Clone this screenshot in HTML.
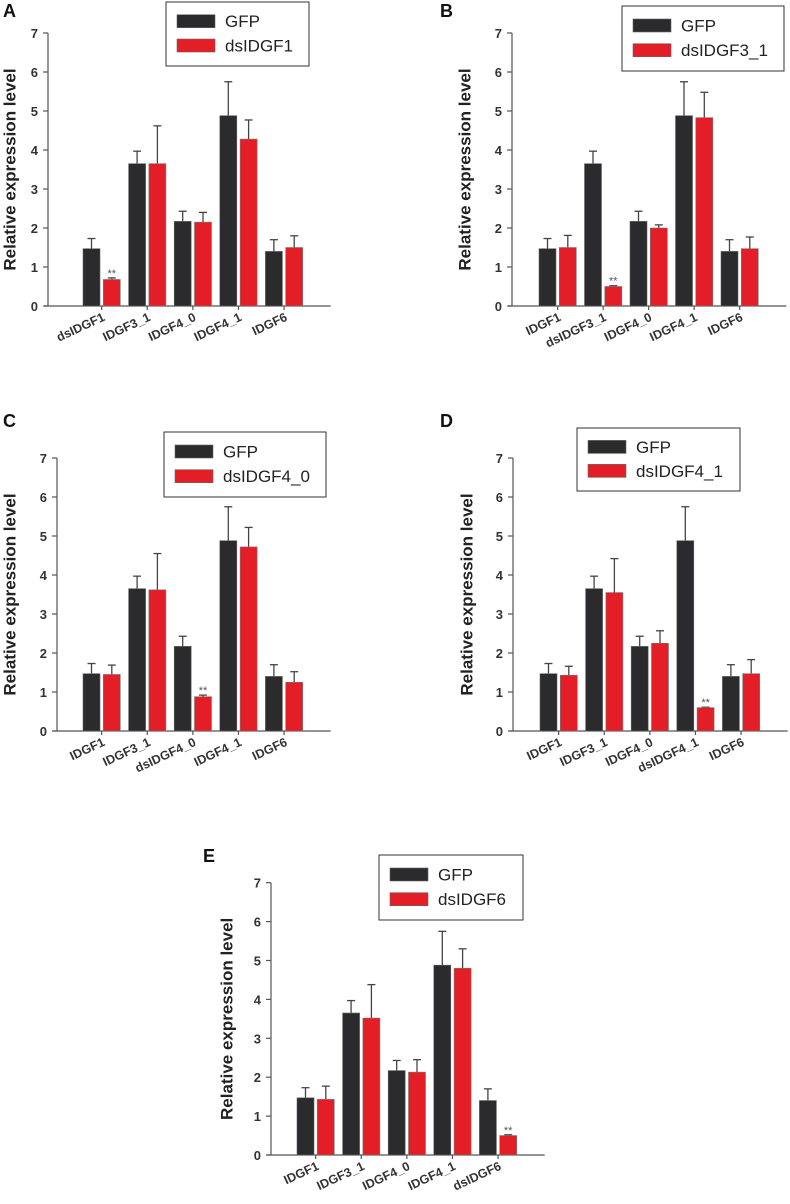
<!DOCTYPE html>
<html><head><meta charset="utf-8"><style>
html,body{margin:0;padding:0;background:#fff;}
svg{display:block;font-family:"Liberation Sans",Arial,sans-serif;}
</style></head>
<body>
<svg id="fig" width="790" height="1204" viewBox="0 0 790 1204" xmlns="http://www.w3.org/2000/svg"></svg>
<script>
const gfpValues = [1.47, 3.65, 2.17, 4.88, 1.40];
const gfpErrTop = [1.73, 3.97, 2.43, 5.75, 1.70];
const redA = [0.68, 3.65, 2.15, 4.28, 1.50];
const redAErr = [0.72, 4.62, 2.40, 4.77, 1.80];
const redB = [1.50, 0.50, 2.00, 4.83, 1.47];
const redBErr = [1.81, 0.52, 2.08, 5.48, 1.77];
const redC = [1.45, 3.62, 0.88, 4.72, 1.25];
const redCErr = [1.69, 4.55, 0.92, 5.22, 1.52];
const redD = [1.43, 3.55, 2.25, 0.60, 1.47];
const redDErr = [1.66, 4.42, 2.57, 0.61, 1.83];
const redE = [1.43, 3.52, 2.13, 4.80, 0.50];
const redEErr = [1.77, 4.38, 2.45, 5.30, 0.52];
const yTicks = [0, 1, 2, 3, 4, 5, 6, 7];
const catsA = ["dsIDGF1", "IDGF3_1", "IDGF4_0", "IDGF4_1", "IDGF6"];
const catsB = ["IDGF1", "dsIDGF3_1", "IDGF4_0", "IDGF4_1", "IDGF6"];
const catsC = ["IDGF1", "IDGF3_1", "dsIDGF4_0", "IDGF4_1", "IDGF6"];
const catsD = ["IDGF1", "IDGF3_1", "IDGF4_0", "dsIDGF4_1", "IDGF6"];
const catsE = ["IDGF1", "IDGF3_1", "IDGF4_0", "IDGF4_1", "dsIDGF6"];
const legendNames = ["dsIDGF1", "dsIDGF3_1", "dsIDGF4_0", "dsIDGF4_1", "dsIDGF6"];
const sigIndex = [0, 1, 2, 3, 4];

const NS = "http://www.w3.org/2000/svg";
const svg = document.getElementById("fig");
function mk(tag, attrs, parent){
  const e = document.createElementNS(NS, tag);
  for (const k in attrs) e.setAttribute(k, attrs[k]);
  (parent || svg).appendChild(e);
  return e;
}
const panels = [
  {id:"a", letter:"A", lx:3, ly:17, ax:48, y0:306, unit:39, bar0:83, pitch:45.6, titleX:10, cats:catsA, red:redA, redErr:redAErr, leg:[166,2,143,64]},
  {id:"b", letter:"B", lx:440, ly:17, ax:512, y0:306, unit:39, bar0:539, pitch:45.5, titleX:465, cats:catsB, red:redB, redErr:redBErr, leg:[622,6,162,65]},
  {id:"c", letter:"C", lx:3, ly:427, ax:57, y0:731, unit:39, bar0:83, pitch:45.6, titleX:10, cats:catsC, red:redC, redErr:redCErr, leg:[164,432,162,65]},
  {id:"d", letter:"D", lx:440, ly:427, ax:513, y0:731, unit:39, bar0:540, pitch:45.6, titleX:467, cats:catsD, red:redD, redErr:redDErr, leg:[577,428,163,63]},
  {id:"e", letter:"E", lx:203, ly:862, ax:271, y0:1155, unit:38.9, bar0:297, pitch:45.6, titleX:227, cats:catsE, red:redE, redErr:redEErr, leg:[379,855,144,65]}
];
const BW = 17, ROFF = 20.3;
panels.forEach((p, pi) => {
  const g = mk("g", {});
  
  
  const yS = v => p.y0 - v * p.unit;
  const lt = mk("text", {x:p.lx, y:p.ly, "font-size":18, "font-weight":"bold", fill:"#111"}, g);
  lt.textContent = p.letter;
  
  
  // y axis
  const axEnd = p.bar0 + 4 * p.pitch + ROFF + BW + 28;
  const yl = mk("line", {x1:p.ax, y1:yS(7), x2:p.ax, y2:p.y0, stroke:"#555", "stroke-width":1.2}, g);
  
  
  const xl = mk("line", {x1:p.ax - 4, y1:p.y0, x2:axEnd, y2:p.y0, stroke:"#555", "stroke-width":1.2}, g);
  
  
  yTicks.forEach(t => {
    mk("line", {x1:p.ax - 5, y1:yS(t), x2:p.ax, y2:yS(t), stroke:"#555", "stroke-width":1.2}, g);
    const tl = mk("text", {x:p.ax - 10, y:yS(t) + 5, "font-size":13, "font-weight":"bold", "text-anchor":"end", fill:"#333"}, g);
    tl.textContent = t;
    
    
  });
  const ty = (yS(7) + p.y0) / 2;
  const tt = mk("text", {x:p.titleX, y:ty, "font-size":17, "font-weight":"bold", fill:"#222", "text-anchor":"middle", "dominant-baseline":"central", transform:`rotate(-90 ${p.titleX} ${ty})`}, g);
  tt.textContent = "Relative expression level";
  
  
  for (let i = 0; i < 5; i++) {
    const bx = p.bar0 + i * p.pitch;
    const rx = bx + ROFF;
    const cx = bx + (ROFF + BW) / 2;
    // error bars
    [[bx, gfpValues[i], gfpErrTop[i]], [rx, p.red[i], p.redErr[i]]].forEach(([x, v, e]) => {
      const mx = x + BW / 2;
      mk("line", {x1:mx, y1:yS(v), x2:mx, y2:yS(e), stroke:"#444", "stroke-width":1.3}, g);
      mk("line", {x1:mx - 4, y1:yS(e), x2:mx + 4, y2:yS(e), stroke:"#444", "stroke-width":1.3}, g);
    });
    const b1 = mk("rect", {x:bx, y:yS(gfpValues[i]), width:BW, height:gfpValues[i] * p.unit, fill:"#2b2b2e", stroke:"#666", "stroke-width":0.6}, g);
    
    
    const b2 = mk("rect", {x:rx, y:yS(p.red[i]), width:BW, height:p.red[i] * p.unit, fill:"#e31e26", stroke:"#777", "stroke-width":0.6}, g);
    
    
    if (i === sigIndex[pi]) {
      const st = mk("text", {x:rx + BW / 2, y:yS(p.redErr[i]) - 1, "font-size":11, fill:"#555", "text-anchor":"middle"}, g);
      st.textContent = "**";
      
      
    }
    mk("line", {x1:cx, y1:p.y0, x2:cx, y2:p.y0 + 4, stroke:"#555", "stroke-width":1.2}, g);
    const xt = mk("text", {x:cx + 4, y:p.y0 + 14, "font-size":12.5, "font-weight":"bold", fill:"#333", "text-anchor":"end", transform:`rotate(-25 ${cx + 4} ${p.y0 + 14})`}, g);
    xt.textContent = p.cats[i];
    
    
  }
  // legend
  const [lx, ly, lw, lh] = p.leg;
  const lg = mk("g", {}, g);
  
  
  mk("rect", {x:lx, y:ly, width:lw, height:lh, fill:"#fff", stroke:"#333", "stroke-width":1}, lg);
  const names = ["GFP", legendNames[pi]];
  const fills = ["#2b2b2e", "#e31e26"];
  names.forEach((n, k) => {
    const cy = ly + lh * (k === 0 ? 0.3 : 0.68);
    mk("rect", {x:lx + 11, y:cy - 6.5, width:38, height:13, fill:fills[k], stroke:"#666", "stroke-width":0.6}, lg);
    const t = mk("text", {x:lx + 59, y:cy + 6, "font-size":17, fill:"#222"}, lg);
    t.textContent = n;
    
    
  });
});
</script>
</body></html>
